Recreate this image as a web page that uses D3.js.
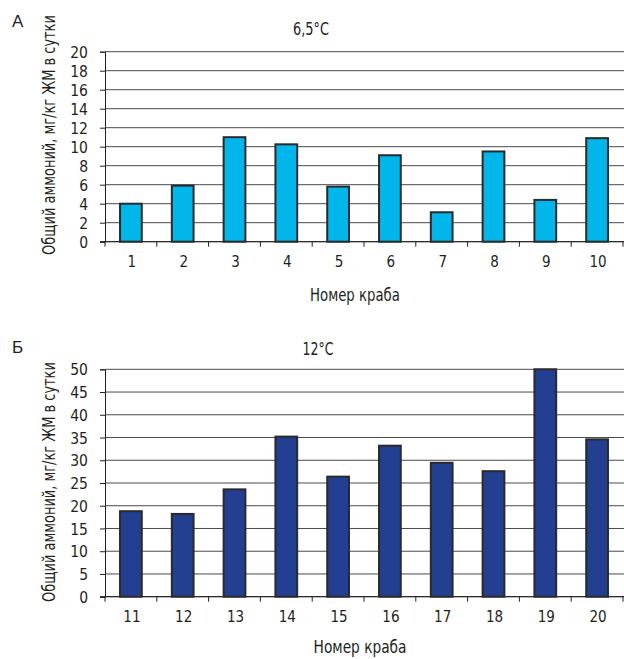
<!DOCTYPE html>
<html>
<head>
<meta charset="utf-8">
<script src="https://cdn.jsdelivr.net/npm/d3@7"></script>
<style>
  body { margin: 0; background: #fff; }
  svg text { font-family: "Liberation Sans Narrow", "DejaVu Sans Condensed", sans-serif; fill: #231f20; }
</style>
</head>
<body>
<script>
// panel A: 6,5 C
const crabsA = ["1", "2", "3", "4", "5", "6", "7", "8", "9", "10"];
const ammoniaA = [4.0, 5.9, 11.0, 10.25, 5.8, 9.1, 3.1, 9.5, 4.4, 10.9];
const ticksA = [0, 2, 4, 6, 8, 10, 12, 14, 16, 18, 20];

// panel B: 12 C
const crabsB = ["11", "12", "13", "14", "15", "16", "17", "18", "19", "20"];
const ammoniaB = [18.8, 18.2, 23.6, 35.2, 26.4, 33.2, 29.45, 27.6, 50, 34.6];
const ticksB = [0, 5, 10, 15, 20, 25, 30, 35, 40, 45, 50];

const yLabel = "Общий аммоний, мг/кг ЖМ в сутки";
const xLabel = "Номер краба";

const W = 624, H = 659;
const svg = d3.select("body").append("svg")
  .attr("width", W)
  .attr("height", H);

// squeeze a text horizontally to a given length (condensed look)
function fitText(sel, len, x, y, rot) {
  const natural = sel.node().getComputedTextLength();
  const k = Math.min(1, len / natural);
  sel.attr("transform", "translate(" + x + "," + y + ")" + (rot ? " rotate(" + rot + ")" : "") + " scale(" + k + ",1)");
}

function panel(opts) {
  const left = 105, right = 623;
  const x = d3.scaleBand().domain(opts.cats).range([left, right]).padding(0);
  const y = d3.scaleLinear().domain([0, d3.max(opts.ticks)]).range([opts.bottom, opts.top]);

  const g = svg.append("g");

  // horizontal grid
  g.selectAll(".grid")
    .data(opts.ticks)
    .enter().append("line")
    .attr("x1", left).attr("x2", right + 2)
    .attr("y1", d => y(d)).attr("y2", d => y(d))
    .attr("stroke", "#4a4a4a")
    .attr("stroke-width", 1);

  // y axis
  const yAxis = g.append("g")
    .attr("transform", "translate(" + left + ",0)")
    .call(d3.axisLeft(y).tickValues(opts.ticks).tickSize(5).tickPadding(12));
  yAxis.select(".domain").attr("stroke", "#231f20");
  yAxis.selectAll(".tick line").attr("stroke", "#231f20");
  yAxis.selectAll("text").style("font-size", "15.5px").attr("dy", "0.36em");

  // x axis ticks at band boundaries
  const bounds = opts.cats.map(c => x(c)).concat([right]);
  g.selectAll(".xt")
    .data(bounds)
    .enter().append("line")
    .attr("x1", d => d).attr("x2", d => d)
    .attr("y1", opts.bottom).attr("y2", opts.bottom + 5)
    .attr("stroke", "#231f20");
  g.append("line")
    .attr("x1", left - 5).attr("x2", right + 2)
    .attr("y1", opts.bottom).attr("y2", opts.bottom)
    .attr("stroke", "#231f20");

  g.selectAll(".xl")
    .data(opts.cats)
    .enter().append("text")
    .attr("x", d => x(d) + x.bandwidth() / 2 + 1)
    .attr("y", opts.bottom + 25)
    .attr("text-anchor", "middle")
    .style("font-size", "15px")
    .text(d => d);

  // bars
  const bw = x.bandwidth() * 0.42;
  g.selectAll(".bar")
    .data(opts.values)
    .enter().append("rect")
    .attr("x", (d, i) => x(opts.cats[i]) + (x.bandwidth() - bw) / 2)
    .attr("width", bw)
    .attr("y", d => y(d))
    .attr("height", d => opts.bottom - y(d))
    .attr("fill", opts.color)
    .attr("stroke", "#2a2a2a")
    .attr("stroke-width", 2);

  // titles
  g.append("text")
    .attr("x", 12).attr("y", opts.letterY)
    .style("font-family", "Liberation Sans, Arial, sans-serif")
    .style("font-size", "17px")
    .text(opts.letter);
  const title = g.append("text")
    .attr("text-anchor", "middle")
    .style("font-size", "17px")
    .text(opts.title);
  fitText(title, opts.titleLen, opts.titleX, opts.titleY, 0);
  const xl = g.append("text")
    .attr("text-anchor", "middle")
    .style("font-size", "17px")
    .text(xLabel);
  fitText(xl, opts.xLabelLen, opts.xLabelX, opts.xLabelY, 0);
  const yl = g.append("text")
    .attr("text-anchor", "middle")
    .style("font-size", "17px")
    .text(yLabel);
  fitText(yl, 240, 55, opts.yLabelY, -90);
}

panel({ cats: crabsA, values: ammoniaA, ticks: ticksA, top: 51.7, bottom: 241.7,
        color: "#00b6eb", letter: "А", letterY: 27,
        title: "6,5°C", titleX: 311, titleY: 35, titleLen: 36,
        xLabelX: 355, xLabelY: 301, xLabelLen: 90, yLabelY: 135 });
panel({ cats: crabsB, values: ammoniaB, ticks: ticksB, top: 369.3, bottom: 596.7,
        color: "#233f92", letter: "Б", letterY: 353,
        title: "12°C", titleX: 318, titleY: 355, titleLen: 31,
        xLabelX: 360, xLabelY: 653, xLabelLen: 93, yLabelY: 482 });
</script>
</body>
</html>
